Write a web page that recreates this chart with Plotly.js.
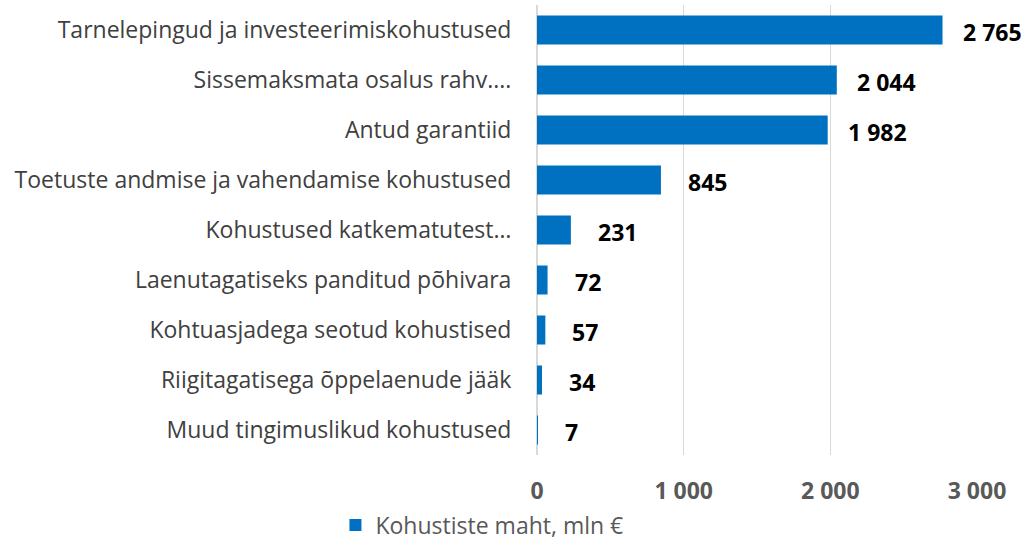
<!DOCTYPE html>
<html><head><meta charset="utf-8">
<script src="https://cdn.plot.ly/plotly-3.0.1.min.js"></script>
<style>html,body{margin:0;padding:0;background:#fff}</style>
</head><body>
<div id="chart" style="width:1029px;height:544px"></div>
<script>
const categories = [
  "Tarnelepingud ja investeerimiskohustused",
  "Sissemaksmata osalus rahv....",
  "Antud garantiid",
  "Toetuste andmise ja vahendamise kohustused",
  "Kohustused katkematutest…",
  "Laenutagatiseks panditud põhivara",
  "Kohtuasjadega seotud kohustised",
  "Riigitagatisega õppelaenude jääk",
  "Muud tingimuslikud kohustused"
];
const values = [2765, 2044, 1982, 845, 231, 72, 57, 34, 7];
const seriesName = "Kohustiste maht, mln €";
const tickVals = [0, 1000, 2000, 3000];

function fmt(v){ return String(v).replace(/\B(?=(\d{3})+(?!\d))/g, " "); }

const trace = {
  type: 'bar', orientation: 'h',
  x: values, y: categories, name: seriesName,
  marker: {color: '#0070c0'}, width: 0.58,
  hoverinfo: 'none'
};
const annotations = values.map((v, i) => ({
  x: v, y: categories[i], xref: 'x', yref: 'y',
  text: '<b>' + fmt(v) + '</b>', showarrow: false,
  xanchor: 'left', xshift: v >= 1000 ? 18 : 25, yshift: -2,
  font: {family: 'Open Sans, sans-serif', size: 23, color: '#000'}
}));
const layout = {
  width: 1029, height: 544,
  margin: {l: 537, r: 52, t: 5, b: 89},
  paper_bgcolor: '#fff', plot_bgcolor: '#fff',
  separators: ', ',
  showlegend: true,
  legend: {orientation: 'h', xref: 'container', yref: 'container', x: 0.326, y: 0.035,
    xanchor: 'left', yanchor: 'middle',
    font: {family: 'Open Sans, sans-serif', size: 23, color: '#595959'}},
  xaxis: {range: [0, 3000], tickvals: tickVals, ticktext: tickVals.map(v => '<b>' + fmt(v) + '</b>'),
    showgrid: true, gridcolor: '#d9d9d9', gridwidth: 1.5, zeroline: true, zerolinecolor: '#d9d9d9', zerolinewidth: 1.5,
    ticks: 'outside', ticklen: 15, tickcolor: 'rgba(0,0,0,0)', showline: false,
    tickfont: {family: 'Open Sans, sans-serif', size: 23, color: '#595959'}, fixedrange: true},
  yaxis: {autorange: 'reversed', ticks: 'outside', ticklen: 20, tickcolor: 'rgba(0,0,0,0)',
    showgrid: false, zeroline: false, showline: false,
    tickfont: {family: 'Open Sans, sans-serif', size: 23, color: '#404040'}},
  annotations: annotations
};
Plotly.newPlot('chart', [trace], layout, {displayModeBar: false, staticPlot: true});
</script>
</body></html>
